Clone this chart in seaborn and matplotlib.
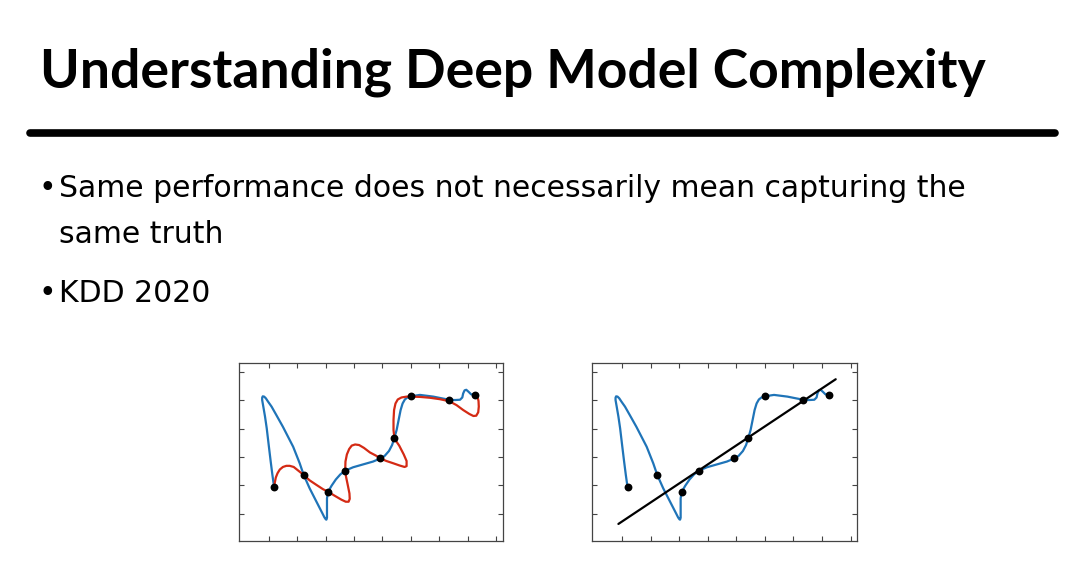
import numpy as np
import pandas as pd
import matplotlib
matplotlib.use("Agg")
import matplotlib.pyplot as plt
import seaborn as sns
from matplotlib.lines import Line2D

# ---------------- data ----------------
title_text = "Understanding Deep Model Complexity"
bullet_lines = ["Same performance does not necessarily mean capturing the",
                "same truth"]
bullet2 = "KDD 2020"

# observed samples
pts_x = [1.19, 2.23, 3.09, 3.69, 4.93, 5.42, 5.99, 7.35, 8.25]
pts_y = [1.94, 2.37, 1.78, 2.52, 2.95, 3.67, 5.13, 5.01, 5.19]

# blue (complex) model curve, traced
blue_x = [1.19, 1.13, 1.07, 1.00, 0.93, 0.87, 0.81, 0.77, 0.77, 0.79, 0.84, 0.90,
          0.98, 1.10, 1.27, 1.50, 1.86, 2.09, 2.23, 2.44, 2.68, 2.89, 2.96, 3.01,
          3.03, 3.05, 3.05, 3.05, 3.08, 3.09, 3.21, 3.36, 3.52, 3.69, 3.97, 4.32,
          4.67, 4.93, 5.08, 5.23, 5.34, 5.42, 5.50, 5.57, 5.64, 5.71, 5.79, 5.88,
          5.99, 6.32, 6.79, 7.14, 7.35, 7.55, 7.73, 7.81, 7.84, 7.89, 7.95, 8.03,
          8.12, 8.25]
blue_y = [1.94, 2.37, 2.84, 3.42, 4.01, 4.42, 4.77, 5.00, 5.08, 5.13, 5.12, 5.06,
          4.94, 4.77, 4.47, 4.06, 3.36, 2.78, 2.37, 1.90, 1.43, 1.02, 0.88, 0.81,
          0.80, 0.87, 1.20, 1.55, 1.73, 1.78, 1.99, 2.21, 2.39, 2.52, 2.64, 2.74,
          2.84, 2.95, 3.04, 3.21, 3.42, 3.67, 3.95, 4.30, 4.65, 4.88, 5.02, 5.09,
          5.13, 5.18, 5.12, 5.05, 5.01, 5.00, 5.01, 5.09, 5.23, 5.34, 5.36, 5.29,
          5.20, 5.19]

# red (other complex) model curve, traced
red_x = [1.19, 1.21, 1.25, 1.31, 1.39, 1.50, 1.62, 1.74, 1.88, 2.03, 2.23, 2.44,
         2.68, 2.91, 3.09, 3.32, 3.56, 3.71, 3.81, 3.85, 3.84, 3.78, 3.72, 3.69,
         3.70, 3.75, 3.83, 3.92, 4.04, 4.18, 4.35, 4.56, 4.77, 4.93, 5.14, 5.38,
         5.61, 5.78, 5.85, 5.85, 5.75, 5.59, 5.46, 5.42, 5.39, 5.39, 5.41, 5.46,
         5.54, 5.67, 5.85, 5.99, 6.32, 6.67, 7.02, 7.35, 7.61, 7.84, 8.06, 8.20,
         8.30, 8.37, 8.39, 8.38, 8.34, 8.29, 8.25]
red_y = [1.94, 2.08, 2.28, 2.43, 2.56, 2.65, 2.69, 2.69, 2.65, 2.53, 2.37, 2.18,
         2.02, 1.87, 1.78, 1.64, 1.50, 1.43, 1.43, 1.53, 1.72, 2.02, 2.31, 2.52,
         2.84, 3.09, 3.28, 3.40, 3.44, 3.42, 3.32, 3.16, 3.05, 2.95, 2.86, 2.78,
         2.70, 2.65, 2.68, 2.86, 3.09, 3.40, 3.59, 3.67, 3.95, 4.30, 4.65, 4.88,
         5.02, 5.09, 5.12, 5.12, 5.11, 5.08, 5.03, 4.96, 4.82, 4.65, 4.51, 4.44,
         4.45, 4.57, 4.77, 4.97, 5.12, 5.18, 5.19]

# simple (linear) model, end points
lin_x = [0.87, 8.48]
lin_y = [0.65, 5.73]

x_ticks = [1, 2, 3, 4, 5, 6, 7, 8, 9]
y_ticks = [1, 2, 3, 4, 5, 6]

# ---------------- style ----------------
sns.set_theme(style="white")
plt.rcParams['font.family'] = ['DejaVu Sans']
plt.rcParams['text.color'] = 'black'

BLUE = "#1f74b8"
RED = "#d42a14"

fig = plt.figure(figsize=(10.8, 5.81), dpi=100)
fig.patch.set_facecolor("white")

# title
fig.text(0.037, 0.849, title_text, fontsize=38.5, fontweight="bold",
         family=["Lato", "DejaVu Sans"], va="baseline", ha="left", color="black")
# brush rule under the title
fig.add_artist(Line2D([0.028, 0.977], [0.771, 0.771], transform=fig.transFigure,
                      color="black", lw=5.5, solid_capstyle="round"))

# bullets
fs = 21.5
fig.text(0.036, 0.661, "•", fontsize=fs, va="baseline", ha="left", color="black")
fig.text(0.055, 0.661, bullet_lines[0], fontsize=fs, va="baseline", ha="left",
         color="black")
fig.text(0.055, 0.582, bullet_lines[1], fontsize=fs, va="baseline", ha="left",
         color="black")
fig.text(0.036, 0.480, "•", fontsize=fs, va="baseline", ha="left", color="black")
fig.text(0.055, 0.480, bullet2, fontsize=fs, va="baseline", ha="left",
         color="black")


def style_axes(ax):
    ax.set_xlim(-0.045, 9.24)
    ax.set_ylim(0.05, 6.30)
    ax.set_xticks(x_ticks)
    ax.set_yticks(y_ticks)
    ax.tick_params(direction="in", top=True, right=True, bottom=True, left=True,
                   length=3.5, width=0.8, color="#444444",
                   labelbottom=False, labelleft=False)
    for s in ax.spines.values():
        s.set_visible(True)
        s.set_color("#444444")
        s.set_linewidth(0.9)
    ax.set_xlabel("")
    ax.set_ylabel("")
    ax.set_facecolor("white")


ax1 = fig.add_axes([0.2213, 0.0688, 0.2444, 0.3064])
sns.lineplot(x=blue_x, y=blue_y, sort=False, estimator=None, ax=ax1,
             color=BLUE, lw=1.6)
sns.lineplot(x=red_x, y=red_y, sort=False, estimator=None, ax=ax1,
             color=RED, lw=1.6)
sns.scatterplot(x=pts_x, y=pts_y, ax=ax1, color="black", s=32,
                edgecolor="black", linewidth=0, zorder=5)
style_axes(ax1)

ax2 = fig.add_axes([0.5484, 0.0688, 0.2455, 0.3064])
sns.lineplot(x=blue_x, y=blue_y, sort=False, estimator=None, ax=ax2,
             color=BLUE, lw=1.6)
sns.lineplot(x=lin_x, y=lin_y, sort=False, estimator=None, ax=ax2,
             color="black", lw=1.6)
sns.scatterplot(x=pts_x, y=pts_y, ax=ax2, color="black", s=32,
                edgecolor="black", linewidth=0, zorder=5)
style_axes(ax2)

fig.savefig("out.png", dpi=100, facecolor="white")
